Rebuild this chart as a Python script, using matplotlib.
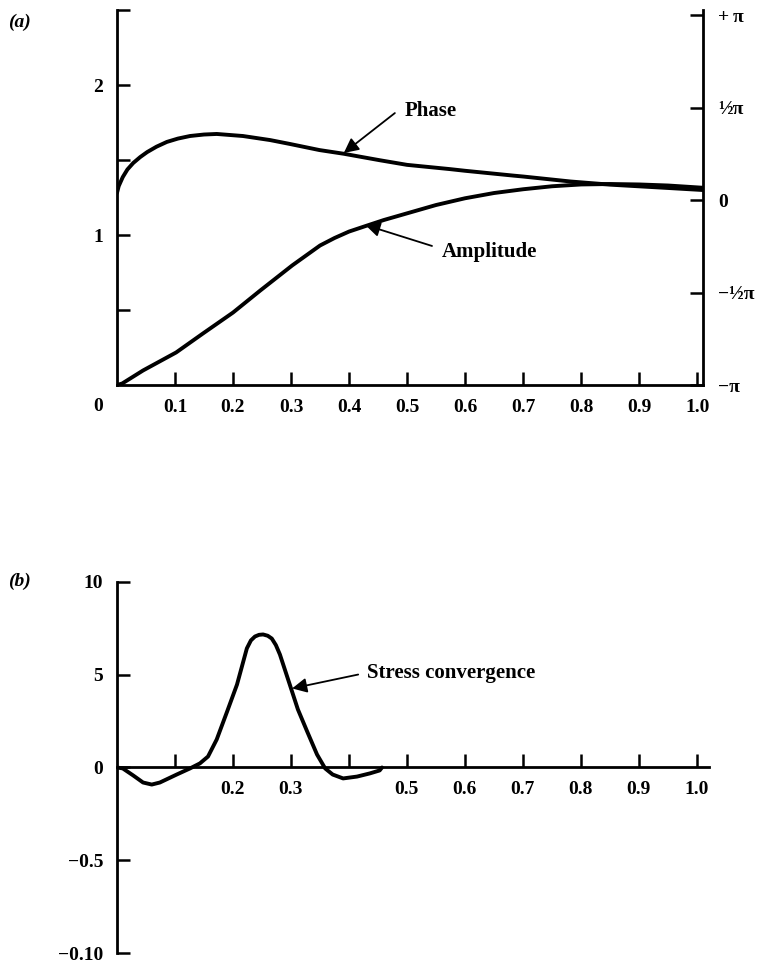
import matplotlib
matplotlib.use("Agg")
import matplotlib.pyplot as plt
import numpy as np

plt.rcParams['font.family'] = ['Liberation Serif', 'DejaVu Serif']
plt.rcParams['font.weight'] = 'bold'

# (a) amplitude
amp_x = [0.0, 0.009, 0.045, 0.102, 0.148, 0.200, 0.247, 0.302, 0.350, 0.375,
         0.400, 0.431, 0.460, 0.505, 0.550, 0.600, 0.650, 0.700, 0.750, 0.800,
         0.850, 0.900, 0.950, 1.010]
amp_y = [0.0, 0.01, 0.097, 0.217, 0.343, 0.483, 0.63, 0.797, 0.93, 0.98,
         1.023, 1.063, 1.10, 1.15, 1.20, 1.245, 1.28, 1.305, 1.325, 1.337,
         1.34, 1.337, 1.33, 1.315]

# (a) phase, in units of pi
ph_x = [0.0, 0.003, 0.010, 0.018, 0.028, 0.040, 0.052, 0.068, 0.086, 0.105,
        0.126, 0.150, 0.172, 0.217, 0.264, 0.298, 0.349, 0.391, 0.453, 0.500,
        0.574, 0.600, 0.683, 0.700, 0.782, 0.850, 0.900, 0.950, 1.010]
ph_y = [0.038, 0.075, 0.124, 0.165, 0.200, 0.232, 0.259, 0.288, 0.314, 0.332,
        0.346, 0.354, 0.357, 0.346, 0.324, 0.303, 0.270, 0.250, 0.215, 0.190,
        0.167, 0.158, 0.132, 0.127, 0.100, 0.083, 0.074, 0.065, 0.054]

# (b) stress convergence
st_x = [0.0, 0.010, 0.028, 0.045, 0.060, 0.074, 0.103, 0.126, 0.143, 0.157,
        0.172, 0.190, 0.207, 0.224, 0.231, 0.238, 0.245, 0.252, 0.260, 0.267,
        0.274, 0.281, 0.298, 0.312, 0.328, 0.345, 0.359, 0.372, 0.390, 0.414,
        0.436, 0.453, 0.457]
st_y = [0.0, -0.05, -0.43, -0.81, -0.92, -0.81, -0.38, -0.05, 0.22, 0.59,
        1.51, 3.02, 4.47, 6.42, 6.85, 7.06, 7.15, 7.17, 7.10, 6.95,
        6.60, 6.09, 4.47, 3.13, 1.94, 0.70, -0.05, -0.38, -0.59, -0.49,
        -0.32, -0.16, 0.0]

x_ticks = [0.1, 0.2, 0.3, 0.4, 0.5, 0.6, 0.7, 0.8, 0.9, 1.0]
x_labels_a = ['0.1', '0.2', '0.3', '0.4', '0.5', '0.6', '0.7', '0.8', '0.9', '1.0']
x_labels_b = ['', '0.2', '0.3', '', '0.5', '0.6', '0.7', '0.8', '0.9', '1.0']
left_ticks_a = [0.5, 1.0, 1.5, 2.0, 2.5]
left_labels_a = ['', '1', '', '2', '']
right_ticks_a = [-np.pi, -0.5 * np.pi, 0.0, 0.5 * np.pi, np.pi]
right_labels_a = ['\u2212\u03c0', '\u2212\u00bd\u03c0', '0', '\u00bd\u03c0', '+\u2009\u03c0']
left_ticks_b = [-10, -5, 0, 5, 10]
left_labels_b = ['\u22120.10', '\u22120.5', '0', '5', '10']

LW = 2.8
SP = 2.0
FS = 14
LFS = 15

fig = plt.figure(figsize=(7.61, 9.63), dpi=100)

# ---- panel (a)
ax = fig.add_axes([0.1537, 0.6002, 0.770, 0.3894])
ax2 = ax.twinx()
ax.set_xlim(0, 1.010)
ax.set_ylim(0, 2.5)
ax2.set_ylim(-np.pi, -np.pi + 2 * np.pi * 375 / 370)

ax.plot(amp_x, amp_y, color='black', lw=LW, solid_joinstyle='round',
        solid_capstyle='round')
ax2.plot(ph_x, np.array(ph_y) * np.pi, color='black', lw=LW,
         solid_joinstyle='round', solid_capstyle='round')

for a in (ax, ax2):
    a.spines['top'].set_visible(False)
    for s in a.spines.values():
        s.set_linewidth(SP)
ax.spines['right'].set_visible(False)
ax2.spines['left'].set_visible(False)
ax2.spines['bottom'].set_visible(False)

ax.set_xticks(x_ticks)
ax.set_xticklabels(x_labels_a)
ax.set_yticks(left_ticks_a)
ax.set_yticklabels(left_labels_a)
ax2.set_yticks(right_ticks_a)
ax2.set_yticklabels(right_labels_a)
ax.tick_params(direction='in', length=9.5, width=1.8, labelsize=FS, pad=10)
ax2.tick_params(direction='in', length=9.5, width=1.8, labelsize=FS, pad=11)
fig.text(0.129, 0.5784, '0', fontsize=FS, ha='center', va='center')

arr = dict(arrowstyle='-|>', color='black', lw=1.3, mutation_scale=22,
           shrinkA=0, shrinkB=0)
ax.annotate('', xy=(0.391, 1.547), xytext=(0.479, 1.813), arrowprops=arr)
ax.text(0.495, 1.827, 'Phase', fontsize=LFS, va='center', ha='left')
ax.annotate('', xy=(0.428, 1.067), xytext=(0.543, 0.927), arrowprops=arr)
ax.text(0.560, 0.887, 'Amplitude', fontsize=LFS, va='center', ha='left')

# ---- panel (b)
bx = fig.add_axes([0.1537, 0.01038, 0.778, 0.3853])
bx.set_xlim(0, 1.021)
bx.set_ylim(-10, 10)
bx.plot(st_x, st_y, color='black', lw=LW, solid_joinstyle='round',
        solid_capstyle='round')
bx.spines['top'].set_visible(False)
bx.spines['right'].set_visible(False)
bx.spines['bottom'].set_position(('data', 0))
for s in bx.spines.values():
    s.set_linewidth(SP)
bx.set_xticks(x_ticks)
bx.set_xticklabels(x_labels_b)
bx.set_yticks(left_ticks_b)
bx.set_yticklabels(left_labels_b)
bx.tick_params(direction='in', length=9.5, width=1.8, labelsize=FS, pad=10)
bx.annotate('', xy=(0.302, 4.26), xytext=(0.416, 5.01), arrowprops=arr)
bx.text(0.431, 5.07, 'Stress convergence', fontsize=LFS, va='center', ha='left')

fig.text(0.026, 0.977, '(a)', fontsize=FS, ha='center', va='center', style='italic')
fig.text(0.026, 0.396, '(b)', fontsize=FS, ha='center', va='center', style='italic')

fig.savefig('out.png', dpi=100)
